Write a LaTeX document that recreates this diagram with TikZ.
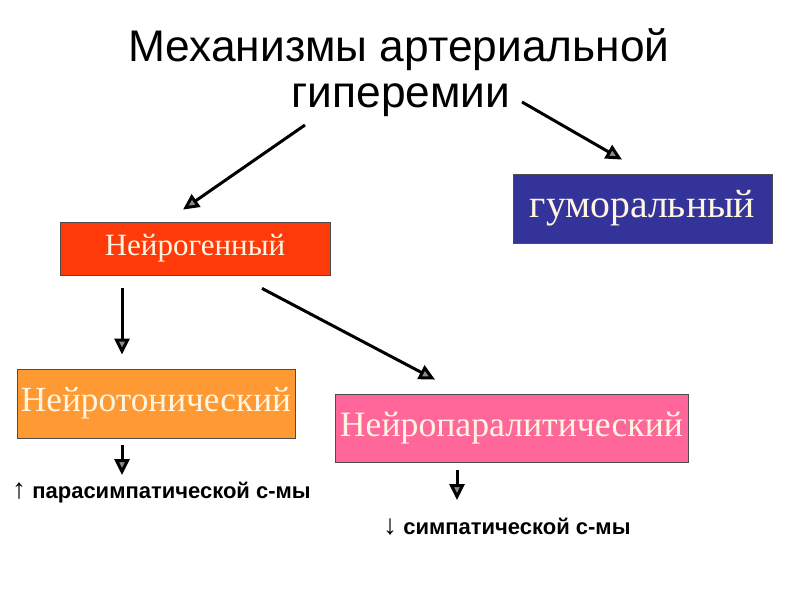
\documentclass[tikz,border=0pt]{standalone}
\usepackage{fontspec}
\setmainfont{Liberation Serif}
\newfontfamily\arialfont{Liberation Sans}
\usetikzlibrary{arrows.meta,positioning}
\definecolor{neurored}{HTML}{FF3A0A}
\definecolor{humblue}{HTML}{33339A}
\definecolor{tonicor}{HTML}{FF9933}
\definecolor{paralpink}{HTML}{FF6699}
\definecolor{cream}{HTML}{FFF6E2}
\begin{document}
\begin{tikzpicture}[x=1pt, y=-1pt,
        box/.style={draw=black!70, line width=0.8pt, inner sep=0pt, text=cream, align=center},
        ttl/.style={inner sep=0pt, font=\arialfont\fontsize{44.3}{48}\selectfont},
        note/.style={inner sep=0pt, anchor=west, font=\arialfont\fontsize{22}{26}\selectfont},
        ar/.style={-{Triangle[length=16pt, width=15pt, fill=black!45]}, line width=3pt}
    ]
        \useasboundingbox (0,0) rectangle (800,600);
        \node (title1) [ttl] at (399,50) {Механизмы артериальной};
        \node (title2) [ttl] at (401,100) {гиперемии};
        \node (neuro) [box, fill=neurored, minimum width=270pt, minimum height=53pt,
            font=\fontsize{31}{34}\selectfont] at (195,248.5) {Нейрогенный};
        \node (hum) [box, fill=humblue, minimum width=259pt, minimum height=69pt,
            font=\fontsize{39.7}{42}\selectfont] at (642.5,208.5) {гуморальный};
        \node (tonic) [box, fill=tonicor, minimum width=278pt, minimum height=69pt,
            font=\fontsize{35.3}{38}\selectfont] at (156,403.5) {Нейротонический};
        \node (paral) [box, fill=paralpink, minimum width=353pt, minimum height=68pt,
            font=\fontsize{35.7}{38}\selectfont] at (511.5,428) {Нейропаралитический};
        \node (para) [note] at (12,493) {{\fontsize{28}{28}\selectfont↑} \textbf{парасимпатической с-мы}};
        \node (symp) [note] at (383,527) {{\fontsize{28}{28}\selectfont↓} \textbf{симпатической с-мы}};
        \draw[ar] ([shift={(-96,25)}]title2.center) -- ([shift={(-12,-12)}]neuro.north);
        \draw[ar] ([shift={(121,2)}]title2.center) -- ([shift={(-20.5,-14)}]hum.north);
        \draw[ar] ([shift={(-73,13)}]neuro.south) -- ([shift={(-34,-14)}]tonic.north);
        \draw[ar] ([shift={(67,13)}]neuro.south) -- ([shift={(-76.5,-14)}]paral.north);
        \draw[ar] ([shift={(-34,7)}]tonic.south) -- ([shift={(110,-18)}]para.west);
        \draw[ar] ([shift={(-54.5,8)}]paral.south) -- ([shift={(74,-27)}]symp.west);
    \end{tikzpicture}
\end{document}
